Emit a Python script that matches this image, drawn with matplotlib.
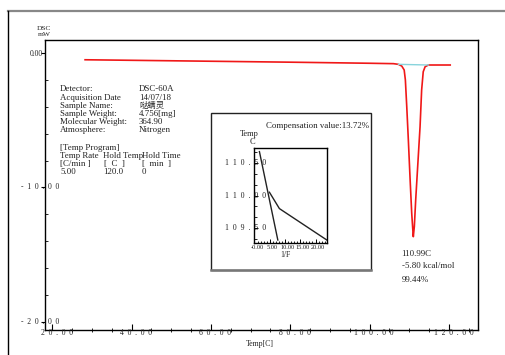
import matplotlib
matplotlib.use('Agg')
import matplotlib.pyplot as plt
import matplotlib.ticker as mticker
import matplotlib.transforms as mtrans
from matplotlib.patches import Rectangle
from matplotlib.lines import Line2D

# ---- data ----
temp = [28.3, 40, 60, 80, 100, 106, 107.25, 108.1, 108.7, 109.0, 109.35, 109.75,
        110.2, 110.6, 110.85, 111.0, 111.26, 111.6, 112.1, 112.7, 113.1, 113.5,
        113.97, 114.8, 117, 120.3]
dsc = [-0.50, -0.54, -0.61, -0.68, -0.76, -0.79, -0.84, -0.97, -1.26, -2.0, -3.99, -6.47,
       -9.44, -11.92, -13.04, -13.66, -12.9, -10.93, -8.45, -5.48, -2.75, -1.39,
       -1.02, -0.89, -0.89, -0.89]
base_temp = [107.25, 114.8]
base_dsc = [-0.84, -0.89]

xticks = [20, 40, 60, 80, 100, 120]
yticks = [0, -10, -20]

# inset (Temp vs 1/F)
inv_f1 = [1.63, 7.65]
temp_f1 = [110.67, 109.32]
inv_f2 = [4.90, 8.17, 23.7]
temp_f2 = [110.05, 109.80, 109.32]
in_xticks = [0, 5, 10, 15, 20]
in_xlabels = ['-0.00', '5.00', '10.00', '15.00', '20.00']
in_yticks = [110.5, 110.0, 109.5]

info_keys = ['Detector:', 'Acquisition Date', 'Sample Name:', 'Sample Weight:',
             'Molecular Weight:', 'Atmosphere:']
info_vals = ['DSC-60A', '14/07/18', '哒螨灵', '4.756[mg]', '364.90', 'Nitrogen']
peak_text = ['110.99C', '-5.80 kcal/mol', '99.44%']

W, H = 505, 355
SERIF = ['Liberation Serif', 'DejaVu Serif']
CJK = ['Noto Sans CJK SC', 'DejaVu Sans']


def fx(px):
    return px / W


def fy(py):
    return 1 - py / H


def spaced(s):
    return '  '.join(list(s))


fig = plt.figure(figsize=(W / 100, H / 100), dpi=100)

def ftext(px, py, s, size=6, ha='left', va='center', family=SERIF, color='#222222'):
    fig.text(fx(px), fy(py), s, fontsize=size, ha=ha, va=va, family=family, color=color)

# outer frame
fig.add_artist(Line2D([fx(8), fx(505)], [fy(11), fy(11)], transform=fig.transFigure,
                      color='#888888', lw=1.6))
fig.add_artist(Line2D([fx(8), fx(8)], [fy(11), fy(355)], transform=fig.transFigure,
                      color='black', lw=1.0))

# ---- main axes ----
ax = fig.add_axes([fx(45), fy(330), (478 - 45) / W, (330 - 40) / H])
ax.plot(temp, dsc, color='#f01818', lw=1.2, zorder=3)
ax.plot(base_temp, base_dsc, color='#88d4dc', lw=1.0, zorder=4)
ax.set_xlim(18.2, 127.3)
ax.set_ylim(-20.6, 0.97)
for sp in ax.spines.values():
    sp.set_linewidth(1.0)
    sp.set_color('black')
ax.xaxis.set_major_locator(mticker.FixedLocator(xticks))
ax.xaxis.set_minor_locator(mticker.MultipleLocator(5))
ax.yaxis.set_major_locator(mticker.FixedLocator(yticks))
ax.yaxis.set_minor_locator(mticker.MultipleLocator(2))
ax.tick_params(axis='x', which='major', direction='in', length=4, width=0.8, labelbottom=False)
ax.tick_params(axis='x', which='minor', direction='inout', length=2.5, width=0.6)
ax.tick_params(axis='y', which='major', direction='out', length=3, width=0.8, labelleft=False)
ax.tick_params(axis='y', which='minor', direction='in', length=2, width=0.6)

xtr = mtrans.offset_copy(ax.get_xaxis_transform(), fig=fig, x=4.5, y=-3, units='dots')
for t in xticks:
    ax.text(t, 0, spaced('%.2f' % t), transform=xtr, ha='center', va='center',
            fontsize=5.5, family=SERIF, color='#222222', clip_on=False)
for t in yticks:
    if t == 0:
        ytr = mtrans.offset_copy(ax.get_yaxis_transform(), fig=fig, x=-2.5, y=-0.5, units='dots')
        ax.text(0, t, '%.2f' % t, transform=ytr, ha='right', va='center',
                fontsize=5.5, family=SERIF, color='#222222', clip_on=False)
    else:
        ytr = mtrans.offset_copy(ax.get_yaxis_transform(), fig=fig, x=-5, y=0, units='dots')
        ax.text(0, t, spaced('%.2f' % t), transform=ytr, ha='center', va='center',
                fontsize=5.5, family=SERIF, color='#222222', clip_on=False)

ftext(44, 28.5, 'DSC', size=5.4, ha='center')
ftext(44, 35, 'mW', size=5.4, ha='center')
ftext(260, 344, 'Temp[C]', size=5.6, ha='center')

# info block
info_y = [89, 97.5, 105.5, 113.5, 121.5, 130]
for k, v, yy in zip(info_keys, info_vals, info_y):
    ftext(60, yy, k, size=6.4)
    if any(ord(ch) > 0x2e80 for ch in v):
        ftext(139, yy, v, size=6.0, family=CJK)
    else:
        ftext(139, yy, v, size=6.4)

ftext(60, 148, '[Temp Program]', size=6.4)
ftext(60, 156, 'Temp Rate', size=6.4)
ftext(103, 156, 'Hold Temp', size=6.4)
ftext(142, 156, 'Hold Time', size=6.4)
ftext(60, 164, '[C/min ]', size=6.4)
ftext(104, 164, '[  C  ]', size=6.4)
ftext(142, 164, '[  min  ]', size=6.4)
ftext(60, 171.5, '5.00', size=6.4)
ftext(103, 171.5, '120.0', size=6.4)
ftext(142, 171.5, '0', size=6.4)

# peak annotation
for s, yy in zip(peak_text, [253.5, 266.5, 279.5]):
    ftext(401.5, yy, s, size=6.4)

# ---- inset box ----
fig.add_artist(Rectangle((fx(211), fy(270)), (371 - 211) / W, (270 - 113) / H,
                         transform=fig.transFigure, fill=False, edgecolor='#222222', lw=1.0))
fig.add_artist(Line2D([fx(211), fx(371)], [fy(270), fy(270)], transform=fig.transFigure,
                      color='#777777', lw=1.8))
ftext(369, 125.5, 'Compensation value:13.72%', size=6.4, ha='right')
ftext(249.5, 134, 'Temp', size=6, ha='center')
ftext(252, 142, 'C', size=6, ha='center')
ftext(285, 255, '1/F', size=5.6, ha='center')

ax2 = fig.add_axes([fx(254.3), fy(243.3), (327.3 - 254.3) / W, (243.3 - 147.7) / H])
ax2.plot(inv_f1, temp_f1, color='#222222', lw=1.0)
ax2.plot(inv_f2, temp_f2, color='#222222', lw=1.0)
ax2.set_xlim(-0.05, 23.85)
ax2.set_ylim(109.27, 110.73)
for sp in ax2.spines.values():
    sp.set_linewidth(1.0)
    sp.set_color('black')
ax2.xaxis.set_major_locator(mticker.FixedLocator(in_xticks))
ax2.xaxis.set_minor_locator(mticker.MultipleLocator(1))
ax2.yaxis.set_major_locator(mticker.FixedLocator(in_yticks))
ax2.yaxis.set_minor_locator(mticker.MultipleLocator(0.5 / 3))
ax2.tick_params(which='major', direction='in', length=3, width=0.7,
                labelbottom=False, labelleft=False)
ax2.tick_params(which='minor', direction='in', length=1.8, width=0.6)

xtr2 = mtrans.offset_copy(ax2.get_xaxis_transform(), fig=fig, x=2.5, y=-4, units='dots')
for t, lab in zip(in_xticks, in_xlabels):
    ax2.text(t, 0, lab, transform=xtr2, ha='center', va='center', fontsize=4.6,
             family=SERIF, color='#222222', clip_on=False)
ytr2 = mtrans.offset_copy(ax2.get_yaxis_transform(), fig=fig, x=-9, y=0, units='dots')
for t in in_yticks:
    ax2.text(0, t, spaced('%.2f' % t), transform=ytr2, ha='center', va='center',
             fontsize=5.6, family=SERIF, color='#222222', clip_on=False)

fig.savefig('out.png', dpi=100)
